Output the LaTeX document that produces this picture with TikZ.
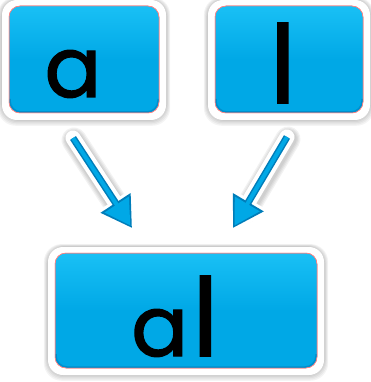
\documentclass[tikz,border=0pt]{standalone}
\usepackage{fontspec}
\setmainfont{Poppins}
\newfontfamily\letterfont{Poppins}[FakeBold=1.6]
\usetikzlibrary{arrows.meta,calc}
\definecolor{boxblue}{RGB}{0,168,230}
\definecolor{boxtop}{RGB}{25,192,245}
\definecolor{boxedge}{RGB}{0,125,185}
\tikzset{
  shadowbox/.style={fill=black, fill opacity=0.045, rounded corners=18pt},
  whitebox/.style={fill=white, rounded corners=15pt},
  bluebox/.style={draw=red!50!white, line width=0.5pt, rounded corners=11pt},
  letter/.style={anchor=base, inner sep=0pt, font=\letterfont\fontsize{84}{84}\selectfont},
  arrowwhite/.style={white, line width=15pt, line cap=round, -{Triangle[length=38pt,width=48pt]}},
  arrowedge/.style={boxedge, line width=7pt, -{Triangle[length=30pt,width=34pt]}},
  arrowblue/.style={boxblue, line width=4pt, shorten >=3pt, -{Triangle[length=25pt,width=28pt]}},
  arrowshade/.style={black, opacity=0.05, line cap=round}
}
\newcommand{\tallL}{{\fontsize{108}{108}\selectfont l}}
\newcommand{\panel}[5]{%
  % #1 name, #2 x1, #3 y1, #4 x2, #5 y2 (blue area)
  \foreach \s in {0,1,2,3,4}{
    \fill[shadowbox] (#2-8-\s*0.8,#3-7-\s*0.5) rectangle (#4+8+\s*0.8,#5+8+\s*1.2);
  }
  \fill[whitebox] (#2-7,#3-6) rectangle (#4+7,#5+7);
  \path[bluebox, top color=boxtop, bottom color=boxblue, middle color=boxblue] (#2,#3) rectangle (#4,#5);
  \draw[boxedge, line width=1.5pt, rounded corners=11pt, opacity=0.6] (#2+1,#5-14) -- (#2+1,#5-1) -- (#4-1,#5-1) -- (#4-1,#5-14);
  \node[draw=red!50!white, line width=0.5pt, rounded corners=11pt, inner sep=0pt, minimum width={#4-#2}, minimum height={#5-#3}] (#1) at ({(#2+#4)/2},{(#3+#5)/2}) {};
}
\begin{document}
\begin{tikzpicture}[x=1pt,y=-1pt]
\useasboundingbox (0,0) rectangle (371,382);
\panel{boxa}{9}{6}{159}{113}
\panel{boxl}{215}{6}{363}{113}
\panel{boxal}{55}{253}{317}{368}
\node[letter] (ta) at (73,97) {a};
\node[letter] (tl) at (283,103) {\tallL};
\node[letter] (tal) at (175,356) {a\kern4pt\tallL};
% arrows
\coordinate (as) at (73,138);
\coordinate (ae) at (132,228);
\coordinate (bs) at (287,137);
\coordinate (be) at (233,228);
\foreach \s in {1,2,3,4}{
  \draw[arrowshade, line width=15pt+2.5*\s] ([xshift=1pt,yshift=-2pt]as) -- ([xshift=1pt,yshift=-2pt]$(ae)!22pt!(as)$);
  \draw[arrowshade, line width=15pt+2.5*\s] ([xshift=1pt,yshift=-2pt]bs) -- ([xshift=1pt,yshift=-2pt]$(be)!22pt!(bs)$);
}
\draw[arrowwhite] (as) -- ($(ae)!-5pt!(as)$);
\draw[arrowwhite] (bs) -- ($(be)!-5pt!(bs)$);
\draw[arrowedge] (as) -- (ae);
\draw[arrowedge] (bs) -- (be);
\draw[arrowblue] (as) -- (ae);
\draw[arrowblue] (bs) -- (be);
\end{tikzpicture}
\end{document}
